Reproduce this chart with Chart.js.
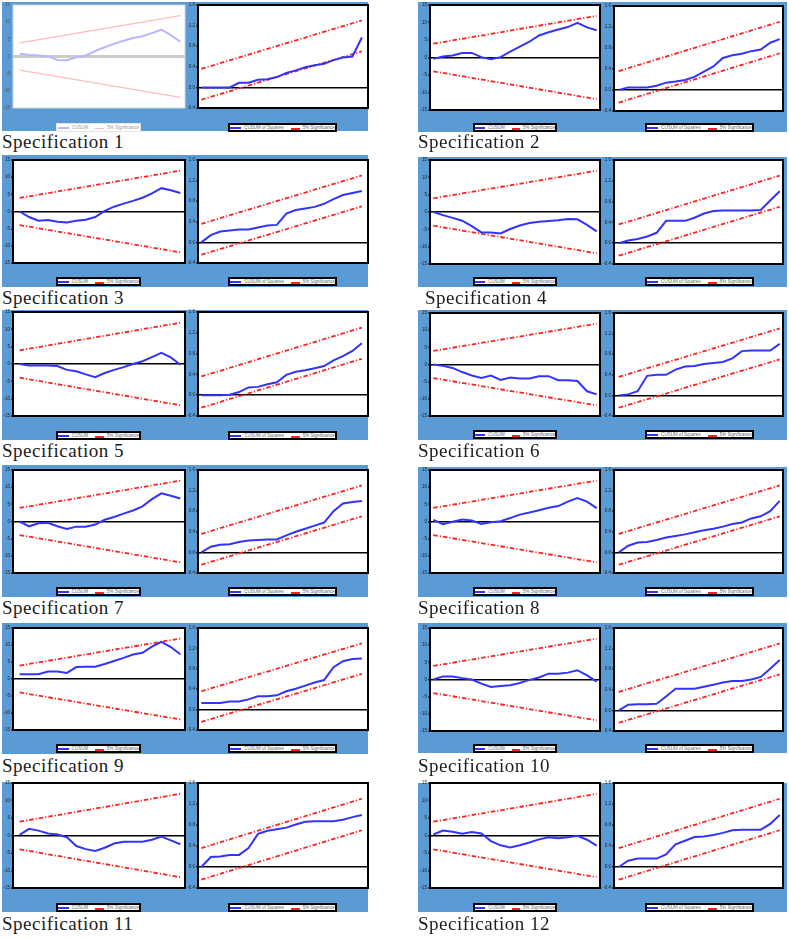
<!DOCTYPE html>
<html>
<head>
<meta charset="utf-8">
<script src="https://cdn.jsdelivr.net/npm/chart.js@4.4.0/dist/chart.umd.min.js"></script>
<style>
  body { margin: 0; background: #fff; }
  #page { position: relative; width: 789px; height: 939px; overflow: hidden; }
  .blue { position: absolute; background: #5b9bd5; }
  .box { position: absolute; }
  .legend { position: absolute; background: #fff; border: 2px solid #000; box-sizing: border-box;
            display: flex; align-items: center; justify-content: center; gap: 3px;
            font: 4.5px Arial, sans-serif; color: #666; white-space: nowrap; }
  .legend.faded { border: 1px solid #e4e4e4; color: #999; }
  .sw { display: inline-block; width: 11px; height: 0; border-top: 2px solid #3333ff; }
  .sw.red { width: 9px; border-top: 2px dashed #ff2020; margin-left: 4px; position: relative; top: 1px; }
  .faded .sw { border-top-color: #b8b8ff; }
  .faded .sw.red { border-top: 1px solid #ffb8b8; }
  .caption { position: absolute; font: 19px "Liberation Serif", "Times New Roman", serif;
             letter-spacing: 0.5px; line-height: 19px; color: #1c1c1c; white-space: nowrap; }
</style>
</head>
<body>
<div id="page"></div>
<script>
// ---------------------------- Données ----------------------------
const years = [2003, 2004, 2005, 2006, 2007, 2008, 2009, 2010, 2011, 2012, 2013, 2014, 2015, 2016, 2017, 2018, 2019, 2020];
const xTickYears = [2004, 2006, 2008, 2010, 2012, 2014, 2016, 2018, 2020];
const cusumTicks = [-15, -10, -5, 0, 5, 10, 15];
const cusumSqTicks = [-0.4, 0, 0.4, 0.8, 1.2, 1.6];

// bandes à 5 % (début, fin)
const bandYears = [2003, 2020];
const cusumUpper = [3.95, 11.9];
const cusumLower = [-3.95, -11.9];
const cusumSqUpper = [0.36, 1.3];
const cusumSqLower = [-0.24, 0.7];

const cusum1 = [0.8, 0.5, 0.3, 0.1, -1.0, -1.1, -0.2, 0.3, 1.6, 2.7, 3.7, 4.6, 5.4, 5.9, 6.8, 7.8, 6.2, 4.3];
const cusumSq1 = [0, 0, 0, 0, 0.09, 0.09, 0.15, 0.16, 0.2, 0.28, 0.33, 0.39, 0.43, 0.46, 0.53, 0.58, 0.6, 0.97];
const cusum2 = [-0.4, 0.3, 0.6, 1.3, 1.3, 0.1, -0.5, 0.1, 1.7, 3.1, 4.5, 6.3, 7.2, 8.0, 8.7, 9.9, 8.6, 7.8];
const cusumSq2 = [0, 0.05, 0.05, 0.05, 0.08, 0.14, 0.16, 0.19, 0.25, 0.35, 0.45, 0.61, 0.66, 0.69, 0.74, 0.77, 0.9, 0.97];
const cusum3 = [0, -1.6, -2.7, -2.5, -3.0, -3.2, -2.7, -2.4, -1.6, 0.2, 1.4, 2.3, 3.1, 4.0, 5.3, 6.8, 6.2, 5.4];
const cusumSq3 = [0, 0.14, 0.21, 0.23, 0.25, 0.25, 0.29, 0.33, 0.34, 0.56, 0.63, 0.66, 0.69, 0.75, 0.84, 0.92, 0.96, 1.0];
const cusum4 = [0, -0.9, -1.7, -2.5, -4.1, -5.9, -5.9, -6.2, -4.9, -3.9, -3.2, -2.8, -2.6, -2.4, -2.0, -2.1, -3.7, -5.6];
const cusumSq4 = [0, 0.05, 0.08, 0.13, 0.2, 0.43, 0.43, 0.43, 0.49, 0.57, 0.62, 0.63, 0.63, 0.63, 0.63, 0.64, 0.82, 1.0];
const cusum5 = [0, -0.4, -0.4, -0.4, -0.6, -1.7, -2.1, -3.0, -3.8, -2.6, -1.7, -0.9, 0.0, 0.8, 2.0, 3.2, 1.9, -0.2];
const cusumSq5 = [0, 0, 0, 0.01, 0.06, 0.15, 0.16, 0.21, 0.25, 0.39, 0.45, 0.48, 0.52, 0.56, 0.67, 0.75, 0.85, 1.0];
const cusum6 = [0, -0.4, -1.0, -2.2, -3.2, -3.9, -3.2, -4.5, -3.8, -4.1, -4.1, -3.4, -3.4, -4.6, -4.6, -4.8, -7.8, -8.7];
const cusumSq6 = [0, 0.02, 0.08, 0.38, 0.4, 0.4, 0.5, 0.56, 0.57, 0.61, 0.63, 0.65, 0.72, 0.86, 0.87, 0.87, 0.87, 1.0];
const cusum7 = [0, -1.4, -0.5, -0.4, -1.4, -2.2, -1.5, -1.5, -0.9, 0.5, 1.3, 2.3, 3.2, 4.4, 6.5, 8.2, 7.5, 6.7];
const cusumSq7 = [0, 0.11, 0.15, 0.16, 0.2, 0.23, 0.24, 0.25, 0.25, 0.33, 0.4, 0.46, 0.52, 0.58, 0.8, 0.95, 0.98, 1.0];
const cusum8 = [0.5, -0.8, -0.1, 0.6, 0.3, -0.7, -0.2, 0.1, 1.0, 2.0, 2.6, 3.3, 4.0, 4.5, 5.8, 6.8, 5.8, 3.9];
const cusumSq8 = [0, 0.13, 0.19, 0.2, 0.24, 0.29, 0.32, 0.35, 0.39, 0.43, 0.46, 0.5, 0.55, 0.58, 0.66, 0.7, 0.8, 1.0];
const cusum9 = [1.4, 1.4, 1.4, 2.2, 2.2, 1.8, 3.5, 3.6, 3.6, 4.4, 5.3, 6.2, 7.2, 7.7, 9.5, 10.9, 9.4, 7.3];
const cusumSq9 = [0.13, 0.13, 0.13, 0.16, 0.16, 0.2, 0.26, 0.26, 0.28, 0.36, 0.41, 0.47, 0.53, 0.58, 0.83, 0.95, 0.99, 1.0];
const cusum10 = [0, 0.9, 0.9, 0.4, 0.0, -1.2, -2.2, -1.9, -1.7, -1.0, -0.1, 0.6, 1.7, 1.7, 2.0, 2.7, 1.2, -0.6];
const cusumSq10 = [0, 0.11, 0.12, 0.12, 0.13, 0.27, 0.42, 0.42, 0.42, 0.46, 0.5, 0.54, 0.57, 0.57, 0.6, 0.65, 0.81, 0.98];
const cusum11 = [0.2, 1.9, 1.4, 0.6, 0.3, -0.5, -3.0, -3.9, -4.4, -3.5, -2.3, -1.8, -1.8, -1.8, -1.2, -0.3, -1.4, -2.5];
const cusumSq11 = [0, 0.19, 0.2, 0.23, 0.23, 0.36, 0.63, 0.69, 0.72, 0.75, 0.81, 0.86, 0.87, 0.87, 0.87, 0.9, 0.95, 0.99];
const cusum12 = [0.3, 1.4, 1.1, 0.5, 1.0, 0.6, -1.6, -2.8, -3.4, -2.8, -2.0, -1.1, -0.5, -0.8, -0.5, -0.1, -1.2, -2.9];
const cusumSq12 = [0, 0.12, 0.16, 0.16, 0.16, 0.24, 0.43, 0.5, 0.57, 0.58, 0.61, 0.65, 0.7, 0.71, 0.71, 0.71, 0.82, 0.99];

const cusumSeries = [cusum1, cusum2, cusum3, cusum4, cusum5, cusum6, cusum7, cusum8, cusum9, cusum10, cusum11, cusum12];
const cusumSqSeries = [cusumSq1, cusumSq2, cusumSq3, cusumSq4, cusumSq5, cusumSq6, cusumSq7, cusumSq8, cusumSq9, cusumSq10, cusumSq11, cusumSq12];

// ---------------------------- Mise en page ----------------------------
const columns = [
    { blueL: 2, blueR: 368, aL: 13, aR: 185, bL: 198, bR: 368, legA: [56, 141], legB: [228, 337], capX: 2,
      xA: [2002.3, 2020.5], xB: [2002.65, 2020.65] },
    { blueL: 418, blueR: 787, aL: 430, aR: 600, bL: 614, bR: 783, legA: [473, 557], legB: [645, 754], capX: 418,
      xA: [2002.65, 2020.35], xB: [2002.5, 2020.35] }
];
// haut/bas du fond bleu, haut/bas des graphiques, haut des légendes, ligne de base du titre
const blocks = [
    { col: 0, top: 2, bottom: 131, ct: 5, cb: 108, lt: 123, base: 147 },
    { col: 1, top: 2, bottom: 132, ct: 5, cb: 110, bt: 6, bb: 111, lt: 123, base: 147 },
    { col: 0, top: 155, bottom: 287, ct: 160, cb: 263, lt: 277, base: 303 },
    { col: 1, top: 157, bottom: 287, ct: 160, cb: 264, lt: 277, base: 303, capDx: 7 },
    { col: 0, top: 310, bottom: 440, ct: 312, cb: 416, lt: 431, base: 456 },
    { col: 1, top: 310, bottom: 440, ct: 313, cb: 416, lt: 430, base: 456 },
    { col: 0, top: 465, bottom: 597, ct: 470, cb: 573, lt: 587, base: 613 },
    { col: 1, top: 467, bottom: 597, ct: 470, cb: 573, lt: 587, base: 613 },
    { col: 0, top: 623, bottom: 754, ct: 628, cb: 730, lt: 744, base: 771 },
    { col: 1, top: 623, bottom: 753, ct: 628, cb: 731, lt: 744, base: 771 },
    { col: 0, top: 782, bottom: 912, ct: 783, cb: 888, lt: 903, base: 929 },
    { col: 1, top: 783, bottom: 912, ct: 783, cb: 888, lt: 903, base: 929 }
];

const Y_AXIS_W = 11, X_AXIS_H = 10, PAD_TOP = 4, PAD_RIGHT = 5;

// fond blanc de la zone de tracé + cadre
Chart.register({
    id: 'panelFrame',
    beforeDraw(chart, args, opts) {
        const a = chart.chartArea, ctx = chart.ctx;
        ctx.save();
        ctx.fillStyle = '#fff';
        ctx.fillRect(a.left, a.top, a.width, a.height);
        ctx.restore();
    },
    afterDatasetsDraw(chart, args, opts) {
        const a = chart.chartArea, ctx = chart.ctx;
        ctx.save();
        ctx.strokeStyle = opts.color || '#000';
        ctx.lineWidth = opts.width || 2;
        ctx.strokeRect(a.left, a.top, a.width, a.height);
        ctx.restore();
    }
});

const page = document.getElementById('page');

function addDiv(cls, left, top, width, height) {
    const d = document.createElement('div');
    d.className = cls;
    d.style.left = left + 'px';
    d.style.top = top + 'px';
    if (width != null) d.style.width = width + 'px';
    if (height != null) d.style.height = height + 'px';
    page.appendChild(d);
    return d;
}

function toPoints(xs, ys) {
    return xs.map((x, i) => ({ x: x, y: ys[i] }));
}

function makePanel(area, values, isSquares, xRange, faded) {
    const box = addDiv('box', area.l - Y_AXIS_W, area.t - PAD_TOP,
        (area.r - area.l) + Y_AXIS_W + PAD_RIGHT, (area.b - area.t) + PAD_TOP + X_AXIS_H);
    const canvas = document.createElement('canvas');
    box.appendChild(canvas);

    const yTicks = isSquares ? cusumSqTicks : cusumTicks;
    const upper = isSquares ? cusumSqUpper : cusumUpper;
    const lower = isSquares ? cusumSqLower : cusumLower;
    const lineColor = faded ? '#b8b8ff' : '#3333ff';
    const bandColor = faded ? '#ffbcbc' : '#ff2020';
    const bandDash = faded ? [] : [4.5, 2, 1.2, 2];
    const bandWidth = faded ? 1.3 : 1.8;
    const isZero = v => Math.abs(v) < 1e-9;

    new Chart(canvas, {
        type: 'line',
        data: {
            datasets: [
                { data: toPoints(years, values), borderColor: lineColor, borderWidth: 2, pointRadius: 0, tension: 0 },
                { data: toPoints(bandYears, upper), borderColor: bandColor, borderWidth: bandWidth, borderDash: bandDash, pointRadius: 0 },
                { data: toPoints(bandYears, lower), borderColor: bandColor, borderWidth: bandWidth, borderDash: bandDash, pointRadius: 0 }
            ]
        },
        options: {
            responsive: true,
            maintainAspectRatio: false,
            animation: false,
            layout: { padding: { top: PAD_TOP, right: PAD_RIGHT, left: 0, bottom: 0 } },
            plugins: {
                legend: { display: false },
                tooltip: { enabled: false },
                panelFrame: faded ? { color: '#d8d8d8', width: 1 } : { color: '#000', width: 2 }
            },
            scales: {
                x: {
                    type: 'linear',
                    min: xRange[0],
                    max: xRange[1],
                    afterBuildTicks: s => { s.ticks = xTickYears.map(v => ({ value: v })); },
                    afterFit: s => { s.height = X_AXIS_H; s.paddingLeft = 0; s.paddingRight = 0; },
                    grid: { display: false },
                    border: { display: false },
                    ticks: { font: { size: 5, family: 'Arial' }, color: faded ? '#444' : '#222', padding: 3,
                             maxRotation: 0, autoSkip: false, callback: v => String(v) }
                },
                y: {
                    type: 'linear',
                    min: yTicks[0],
                    max: yTicks[yTicks.length - 1],
                    afterBuildTicks: s => { s.ticks = yTicks.map(v => ({ value: v })); },
                    afterFit: s => { s.width = Y_AXIS_W; s.paddingTop = 0; s.paddingBottom = 0; },
                    grid: {
                        color: c => isZero(c.tick.value) ? (faded ? '#cccccc' : '#000') : 'rgba(0,0,0,0)',
                        lineWidth: c => isZero(c.tick.value) ? (faded ? 3 : 1.6) : 0,
                        tickColor: faded ? '#888' : '#000',
                        tickWidth: 1,
                        tickLength: 2
                    },
                    border: { display: false },
                    ticks: { font: { size: 4.5, family: 'Arial' }, color: faded ? '#555' : '#222', padding: 1,
                             callback: v => isSquares ? Number(v).toFixed(1) : String(v) }
                }
            }
        }
    });
}

function makeLegend(range, top, labels, faded) {
    const leg = addDiv('legend' + (faded ? ' faded' : ''), range[0], top, range[1] - range[0], 9);
    leg.innerHTML = '<span class="sw"></span><span>' + labels[0] + '</span>' +
                    '<span class="sw red"></span><span>' + labels[1] + '</span>';
}

blocks.forEach((b, i) => {
    const c = columns[b.col];
    const faded = i === 0;
    addDiv('blue', c.blueL, b.top, c.blueR - c.blueL, b.bottom - b.top);

    makePanel({ l: c.aL, r: c.aR, t: b.ct, b: b.cb }, cusumSeries[i], false, c.xA, faded);
    makePanel({ l: c.bL, r: c.bR, t: b.bt || b.ct, b: b.bb || b.cb }, cusumSqSeries[i], true, c.xB, false);

    makeLegend(c.legA, b.lt, ['CUSUM', '5% Significance'], faded);
    makeLegend(c.legB, b.lt, ['CUSUM of Squares', '5% Significance'], false);

    const cap = addDiv('caption', c.capX + (b.capDx || 0), b.base - 15);
    cap.textContent = 'Specification ' + (i + 1);
});
</script>
</body>
</html>
